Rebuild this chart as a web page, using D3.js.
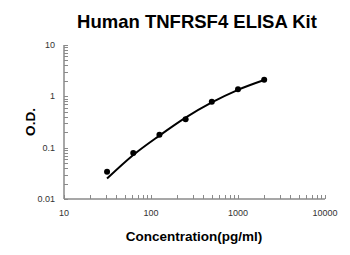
<!DOCTYPE html>
<html>
<head>
<meta charset="utf-8">
<script src="https://cdn.jsdelivr.net/npm/d3@7"></script>
<style>
  body { margin: 0; background: #fff; }
  text { font-family: "Liberation Sans", Arial, sans-serif; }
</style>
</head>
<body>
<svg id="chart" width="350" height="255"></svg>
<script>
// standard concentrations (pg/ml) and measured O.D.
var concentrations = [31.25, 62.5, 125, 250, 500, 1000, 2000];
var odValues = [0.034, 0.079, 0.179, 0.356, 0.785, 1.37, 2.11];
// fitted standard curve at the same concentrations
var fitValues = [0.025, 0.072, 0.172, 0.385, 0.76, 1.34, 2.08];

var xTickLabels = ['10', '100', '1000', '10000'];
var yTickLabels = ['0.01', '0.1', '1', '10'];

var svg = d3.select('#chart');

var x = d3.scaleLog().domain([10, 10000]).range([64, 325]);
var y = d3.scaleLog().domain([0.01, 10]).range([199, 45]);

// minor + major tick positions for the log axes
function logTicks(lo, hi) {
  var out = [];
  for (var p = lo; p < hi; p *= 10) {
    for (var k = 1; k < 10; k++) out.push(p * k);
  }
  out.push(hi);
  return out;
}

var axisColor = '#8a8a8a';

// y axis: ticks point inward (right)
var yAxis = svg.append('g').attr('class', 'y-axis');
yAxis.append('line')
  .attr('x1', x(10)).attr('x2', x(10))
  .attr('y1', y(0.01)).attr('y2', y(10))
  .attr('stroke', axisColor).attr('stroke-width', 1.5);
yAxis.selectAll('.tick').data(logTicks(0.01, 10)).enter().append('line')
  .attr('x1', x(10)).attr('x2', x(10) + 4)
  .attr('y1', function (d) { return Math.round(y(d)) + 0.5; })
  .attr('y2', function (d) { return Math.round(y(d)) + 0.5; })
  .attr('stroke', axisColor).attr('stroke-width', 1);
yAxis.selectAll('.label').data(yTickLabels).enter().append('text')
  .attr('x', 55)
  .attr('y', function (d) { return y(+d) + 3; })
  .attr('text-anchor', 'end')
  .attr('font-size', 9)
  .attr('fill', '#333')
  .text(function (d) { return d; });

// x axis: ticks point up
var xAxis = svg.append('g').attr('class', 'x-axis');
xAxis.append('line')
  .attr('x1', x(10)).attr('x2', x(10000))
  .attr('y1', y(0.01)).attr('y2', y(0.01))
  .attr('stroke', axisColor).attr('stroke-width', 1.5);
xAxis.selectAll('.tick').data(logTicks(10, 10000)).enter().append('line')
  .attr('x1', function (d) { return Math.round(x(d)) + 0.5; })
  .attr('x2', function (d) { return Math.round(x(d)) + 0.5; })
  .attr('y1', y(0.01)).attr('y2', y(0.01) - 4)
  .attr('stroke', axisColor).attr('stroke-width', 1);
xAxis.selectAll('.label').data(xTickLabels).enter().append('text')
  .attr('x', function (d) { return x(+d); })
  .attr('y', 216)
  .attr('text-anchor', 'middle')
  .attr('font-size', 9)
  .attr('fill', '#333')
  .text(function (d) { return d; });

// fitted curve
var fit = concentrations.map(function (c, i) { return [c, fitValues[i]]; });
svg.append('path')
  .datum(fit)
  .attr('fill', 'none')
  .attr('stroke', '#000')
  .attr('stroke-width', 2)
  .attr('d', d3.line()
    .x(function (d) { return x(d[0]); })
    .y(function (d) { return y(d[1]); })
    .curve(d3.curveMonotoneX));

// measured points
svg.selectAll('.pt').data(concentrations).enter().append('circle')
  .attr('cx', function (d) { return x(d); })
  .attr('cy', function (d, i) { return y(odValues[i]); })
  .attr('r', 3)
  .attr('fill', '#000');

// titles
svg.append('text')
  .attr('x', 197).attr('y', 28)
  .attr('text-anchor', 'middle')
  .attr('font-size', 18.5).attr('font-weight', 'bold')
  .text('Human TNFRSF4 ELISA Kit');

svg.append('text')
  .attr('x', 194).attr('y', 241)
  .attr('text-anchor', 'middle')
  .attr('font-size', 13.5).attr('font-weight', 'bold')
  .text('Concentration(pg/ml)');

svg.append('text')
  .attr('transform', 'translate(35,122) rotate(-90)')
  .attr('text-anchor', 'middle')
  .attr('font-size', 13.5).attr('font-weight', 'bold')
  .text('O.D.');
</script>
</body>
</html>
